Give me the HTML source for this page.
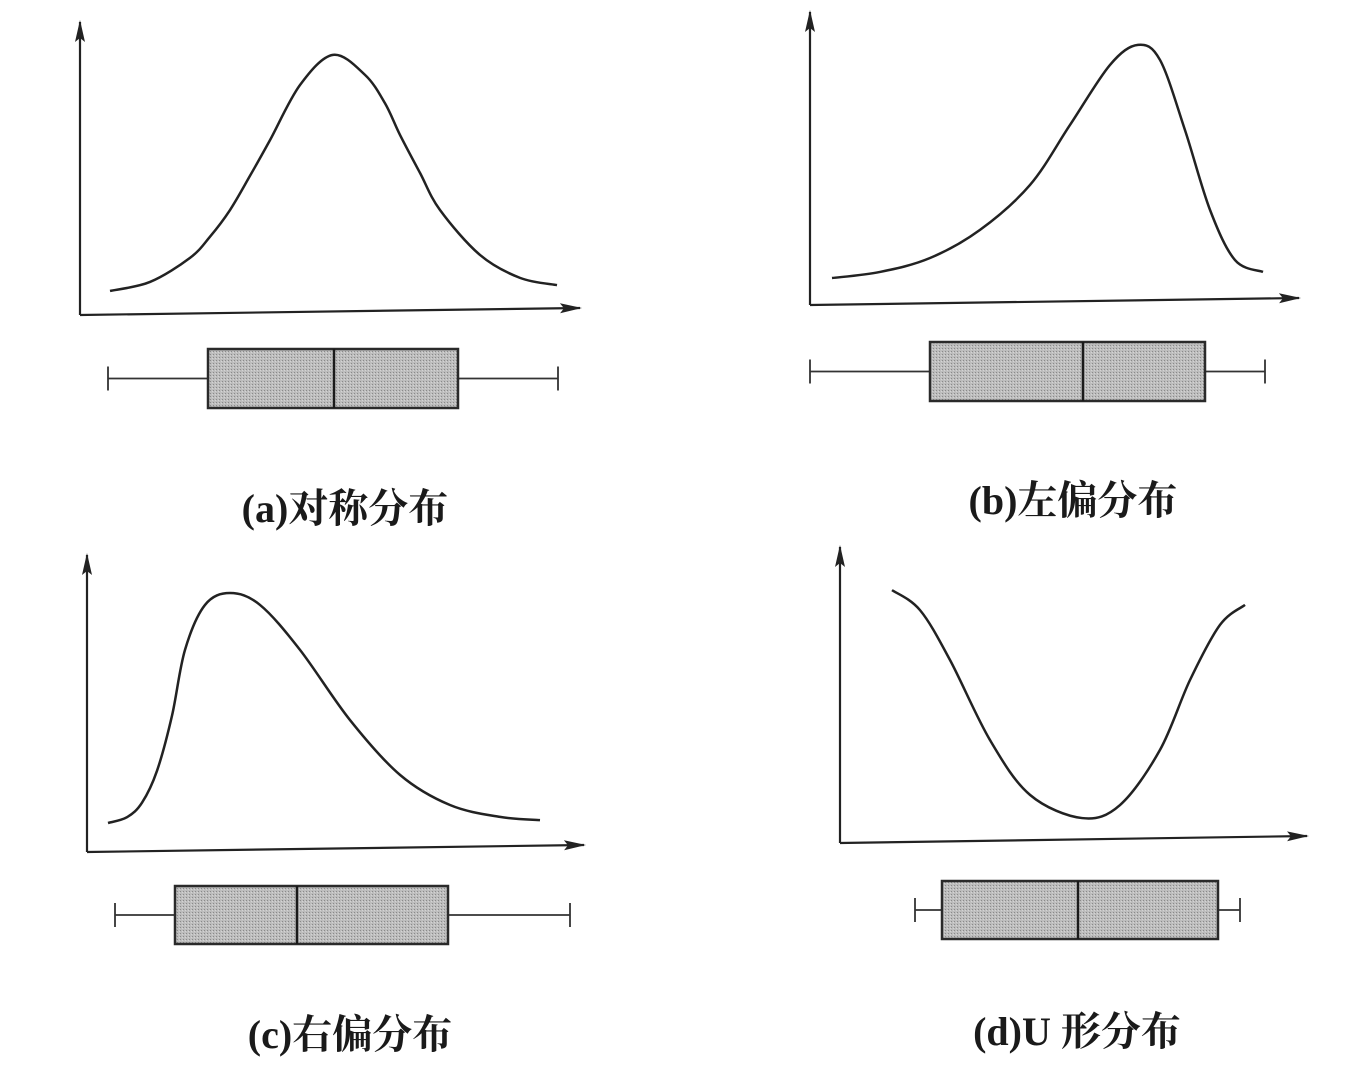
<!DOCTYPE html>
<html><head><meta charset="utf-8">
<style>
html,body{margin:0;padding:0;background:#fff;}
svg{display:block;}
text{font-family:"Liberation Serif","Noto Serif CJK SC",serif;font-size:40px;font-weight:bold;fill:#1a1a1a;}
</style></head>
<body>
<svg id="chart" width="1358" height="1068" viewBox="0 0 1358 1068">
<defs>
<pattern id="stip" width="3" height="3" patternUnits="userSpaceOnUse">
<rect width="3" height="3" fill="#bdbdbd"/><rect width="1" height="1" fill="#8a8a8a"/><rect x="2" y="1" width="1" height="1" fill="#d4d4d4"/>
</pattern>
<marker id="arr" markerWidth="22" markerHeight="12" refX="20" refY="6" orient="auto" markerUnits="userSpaceOnUse" viewBox="0 0 22 12">
<path d="M0,1 L22,6 L0,11 L4,6 Z" fill="#222"/></marker>
</defs>
</svg>
<script>
// shared domain: x 0..10, y 0..1
const curveXA=[0.6,1.4,2.2,2.6,3.0,3.4,3.8,4.4,5.06,5.7,6.1,6.4,6.8,7.2,8.0,8.8,9.54];
const curveYA=[0.083,0.114,0.197,0.270,0.362,0.480,0.603,0.793,0.897,0.828,0.730,0.621,0.490,0.362,0.207,0.128,0.103];
const curveXB=[0.44,1.4,2.4,3.4,4.4,5.2,6.0,6.56,7.0,7.5,8.0,8.5,9.06];
const curveYB=[0.093,0.114,0.162,0.259,0.414,0.621,0.828,0.897,0.845,0.603,0.328,0.155,0.114];
const curveXC=[0.42,0.8,1.1,1.4,1.7,1.96,2.36,2.86,3.46,4.26,5.26,6.26,7.26,8.26,9.06];
const curveYC=[0.1,0.12,0.17,0.28,0.47,0.697,0.852,0.893,0.852,0.697,0.455,0.266,0.162,0.121,0.110];
const curveXD=[1.04,1.6,2.2,3.0,3.8,4.84,5.6,6.4,7.0,7.6,8.1];
const curveYD=[0.872,0.803,0.631,0.355,0.166,0.086,0.131,0.321,0.562,0.752,0.821];
// box stats: min, q1, median, q3, max
const boxA=[0.56,2.56,5.08,7.56,9.56];
const boxB=[0.0,2.4,5.46,7.9,9.1];
const boxC=[0.56,1.76,4.2,7.22,9.66];
const boxD=[1.5,2.04,4.76,7.56,8.0];
const labels=["(a)对称分布","(b)左偏分布","(c)右偏分布","(d)U 形分布"];

const panels=[
 {id:'a',ox:80,oy:315,top:22,xEnd:580,xEndY:308,cx:curveXA,cy:curveYA,box:boxA,by:349,bh:59,lx:345,ly:522},
 {id:'b',ox:810,oy:305,top:12,xEnd:1299,xEndY:298,cx:curveXB,cy:curveYB,box:boxB,by:342,bh:59,lx:1073,ly:514},
 {id:'c',ox:87,oy:852,top:555,xEnd:584,xEndY:845,cx:curveXC,cy:curveYC,box:boxC,by:886,bh:58,lx:350,ly:1048},
 {id:'d',ox:840,oy:843,top:547,xEnd:1307,xEndY:836,cx:curveXD,cy:curveYD,box:boxD,by:881,bh:58,lx:1077,ly:1045}
];
const NS="http://www.w3.org/2000/svg";
const svg=document.getElementById('chart');
function mk(tag,attrs,parent){const e=document.createElementNS(NS,tag);for(const k in attrs)e.setAttribute(k,attrs[k]);(parent||svg).appendChild(e);return e;}
function smooth(pts){let d=`M${pts[0][0]},${pts[0][1]}`;for(let i=0;i<pts.length-1;i++){const p0=pts[i-1]||pts[i],p1=pts[i],p2=pts[i+1],p3=pts[i+2]||p2;
 const c1=[p1[0]+(p2[0]-p0[0])/6,p1[1]+(p2[1]-p0[1])/6],c2=[p2[0]-(p3[0]-p1[0])/6,p2[1]-(p3[1]-p1[1])/6];
 d+=` C${c1[0]},${c1[1]} ${c2[0]},${c2[1]} ${p2[0]},${p2[1]}`;}return d;}

panels.forEach(p=>{
 const xs=v=>p.ox+v*50, ys=v=>p.oy-v*290;
 const g=mk('g',{});
 
 
 const ya=mk('line',{x1:p.ox,y1:p.oy,x2:p.ox,y2:p.top,stroke:'#222','stroke-width':2.2,'marker-end':'url(#arr)'},g);
 
 
 const xa=mk('line',{x1:p.ox,y1:p.oy,x2:p.xEnd,y2:p.xEndY,stroke:'#222','stroke-width':2.2,'marker-end':'url(#arr)'},g);
 
 
 const pts=p.cx.map((x,i)=>[xs(x),ys(p.cy[i])]);
 const c=mk('path',{d:smooth(pts),fill:'none',stroke:'#222','stroke-width':2.5},g);
 
 
 const b=p.box, mid=p.by+p.bh/2;
 const w=mk('g',{stroke:'#333','stroke-width':1.8},g);
 
 
 mk('line',{x1:xs(b[0]),y1:mid,x2:xs(b[1]),y2:mid},w);
 mk('line',{x1:xs(b[3]),y1:mid,x2:xs(b[4]),y2:mid},w);
 mk('line',{x1:xs(b[0]),y1:mid-12,x2:xs(b[0]),y2:mid+12},w);
 mk('line',{x1:xs(b[4]),y1:mid-12,x2:xs(b[4]),y2:mid+12},w);
 const r=mk('rect',{x:xs(b[1]),y:p.by,width:xs(b[3])-xs(b[1]),height:p.bh,fill:'url(#stip)',stroke:'#2a2a2a','stroke-width':2.5},g);
 
 
 const m=mk('line',{x1:xs(b[2]),y1:p.by,x2:xs(b[2]),y2:p.by+p.bh,stroke:'#1a1a1a','stroke-width':2.5},g);
 
 
 const t=mk('text',{x:p.lx,y:p.ly,'text-anchor':'middle'},g);
 t.textContent=labels[panels.indexOf(p)];
 
 
});
</script>
</body></html>
